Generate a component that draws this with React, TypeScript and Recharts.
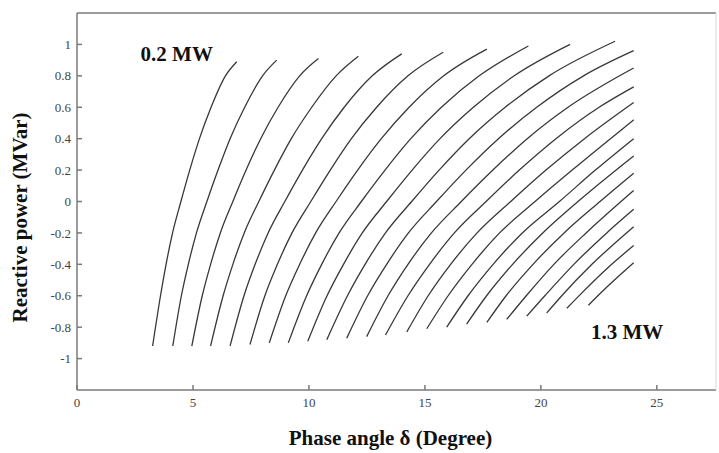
import { LineChart, Line, XAxis, YAxis, ReferenceDot } from "recharts";

// active power of each curve, MW (0.2 ... 1.3 in 0.05 steps)
const powers = [
  0.2, 0.25, 0.3, 0.35, 0.4, 0.45, 0.5, 0.55, 0.6, 0.65, 0.7, 0.75,
  0.8, 0.85, 0.9, 0.95, 1.0, 1.05, 1.1, 1.15, 1.2, 1.25, 1.3,
];

// phase angle (deg)
const deltaSeries: number[][] = [
  [3.26, 3.6, 3.84, 4.12, 4.48, 4.86, 5.28, 5.78, 6.4, 6.89],
  [4.13, 4.5, 4.8, 5.15, 5.6, 6.08, 6.6, 7.23, 8.0, 8.61],
  [4.95, 5.4, 5.76, 6.18, 6.72, 7.29, 7.92, 8.67, 9.6, 10.41],
  [5.76, 6.3, 6.72, 7.21, 7.84, 8.51, 9.24, 10.12, 11.17, 12.13],
  [6.6, 7.2, 7.68, 8.24, 8.96, 9.72, 10.55, 11.52, 12.73, 14.0],
  [7.46, 8.1, 8.64, 9.27, 10.08, 10.92, 11.83, 12.92, 14.27, 15.79],
  [8.29, 9.0, 9.6, 10.29, 11.17, 12.1, 13.12, 14.32, 15.81, 17.67],
  [9.11, 9.9, 10.55, 11.3, 12.26, 13.28, 14.39, 15.71, 17.34, 19.46],
  [9.95, 10.78, 11.49, 12.3, 13.35, 14.45, 15.65, 17.09, 18.85, 21.26],
  [10.77, 11.66, 12.42, 13.3, 14.43, 15.61, 16.91, 18.46, 20.35, 23.2],
  [11.63, 12.53, 13.35, 14.29, 15.5, 16.77, 18.17, 19.82, 21.84, 24],
  [12.49, 13.41, 14.27, 15.28, 16.57, 17.93, 19.41, 21.17, 24],
  [13.3, 14.27, 15.2, 16.27, 17.64, 19.07, 20.65, 22.51, 24],
  [14.22, 15.14, 16.11, 17.25, 18.7, 20.22, 21.88, 24],
  [15.08, 16.0, 17.03, 18.22, 19.75, 21.35, 23.0, 24],
  [15.94, 16.86, 17.94, 19.2, 20.8, 22.35, 24],
  [16.8, 17.66, 18.78, 20.08, 21.6, 24],
  [17.67, 18.5, 19.66, 21.0, 22.55, 24],
  [18.53, 19.37, 20.56, 21.95, 24],
  [19.39, 20.17, 21.42, 22.84, 24],
  [20.25, 20.9, 22.2, 24],
  [21.12, 21.78, 22.9, 24],
  [22.05, 22.88, 24],
];

// reactive power (MVar) at the same points
const qSeries: number[][] = [
  [-0.92, -0.6, -0.4, -0.2, 0, 0.2, 0.4, 0.6, 0.8, 0.89],
  [-0.92, -0.6, -0.4, -0.2, 0, 0.2, 0.4, 0.6, 0.8, 0.9],
  [-0.92, -0.6, -0.4, -0.2, 0, 0.2, 0.4, 0.6, 0.8, 0.91],
  [-0.92, -0.6, -0.4, -0.2, 0, 0.2, 0.4, 0.6, 0.8, 0.925],
  [-0.92, -0.6, -0.4, -0.2, 0, 0.2, 0.4, 0.6, 0.8, 0.94],
  [-0.91, -0.6, -0.4, -0.2, 0, 0.2, 0.4, 0.6, 0.8, 0.95],
  [-0.9, -0.6, -0.4, -0.2, 0, 0.2, 0.4, 0.6, 0.8, 0.97],
  [-0.9, -0.6, -0.4, -0.2, 0, 0.2, 0.4, 0.6, 0.8, 0.99],
  [-0.89, -0.6, -0.4, -0.2, 0, 0.2, 0.4, 0.6, 0.8, 1.0],
  [-0.88, -0.6, -0.4, -0.2, 0, 0.2, 0.4, 0.6, 0.8, 1.02],
  [-0.87, -0.6, -0.4, -0.2, 0, 0.2, 0.4, 0.6, 0.8, 0.96],
  [-0.86, -0.6, -0.4, -0.2, 0, 0.2, 0.4, 0.6, 0.85],
  [-0.85, -0.6, -0.4, -0.2, 0, 0.2, 0.4, 0.6, 0.73],
  [-0.83, -0.6, -0.4, -0.2, 0, 0.2, 0.4, 0.63],
  [-0.81, -0.6, -0.4, -0.2, 0, 0.2, 0.4, 0.52],
  [-0.8, -0.6, -0.4, -0.2, 0, 0.2, 0.4],
  [-0.78, -0.6, -0.4, -0.2, 0, 0.29],
  [-0.77, -0.6, -0.4, -0.2, 0, 0.18],
  [-0.75, -0.6, -0.4, -0.2, 0.07],
  [-0.73, -0.6, -0.4, -0.2, -0.05],
  [-0.71, -0.6, -0.4, -0.16],
  [-0.68, -0.58, -0.42, -0.28],
  [-0.66, -0.54, -0.39],
];

const xTicks = [0, 5, 10, 15, 20, 25];
const yTicks = [-1, -0.8, -0.6, -0.4, -0.2, 0, 0.2, 0.4, 0.6, 0.8, 1];

const serif = "'Liberation Serif', 'Times New Roman', serif";
const axisColor = "#7a7a7a";

const curves = powers.map((p, i) => ({
  power: p,
  points: deltaSeries[i].map((d, j) => ({ delta: d, q: qSeries[i][j] })),
}));

export default function App() {
  return (
    <div style={{ position: "absolute", left: 0, top: 0, background: "#fff" }}>
      <LineChart
        width={719}
        height={453}
        margin={{ top: 12, right: 0, bottom: 0, left: 0 }}
      >
        <XAxis
          dataKey="delta"
          type="number"
          domain={[0, 27.55]}
          ticks={xTicks}
          allowDataOverflow
          height={63}
          tickSize={-5}
          tickMargin={13}
          stroke={axisColor}
          strokeWidth={1.5}
          tick={{ fontSize: 13, fill: "#444", fontFamily: serif }}
          label={{
            value: "Phase angle δ (Degree)",
            position: "center",
            dx: -6,
            dy: 16,
            style: {
              fontSize: 21,
              fontWeight: "bold",
              fontFamily: serif,
              fill: "#111",
            },
          }}
        />
        <XAxis
          xAxisId="top"
          orientation="top"
          type="number"
          domain={[0, 27.55]}
          ticks={xTicks}
          height={1}
          tickSize={-5}
          tickFormatter={() => ""}
          stroke={axisColor}
          strokeWidth={1.5}
        />
        <YAxis
          type="number"
          domain={[-1.2, 1.2]}
          ticks={yTicks}
          allowDataOverflow
          width={77}
          tickSize={-5}
          tickMargin={11}
          stroke={axisColor}
          strokeWidth={1.5}
          tick={{ fontSize: 13, fill: "#444", fontFamily: serif }}
          label={{
            value: "Reactive power (MVar)",
            angle: -90,
            position: "center",
            dx: -19,
            dy: 16,
            style: {
              fontSize: 21,
              fontWeight: "bold",
              fontFamily: serif,
              fill: "#111",
            },
          }}
        />
        <YAxis
          yAxisId="right"
          orientation="right"
          type="number"
          domain={[-1.2, 1.2]}
          ticks={yTicks}
          width={3}
          tickSize={-4}
          tickFormatter={() => ""}
          stroke="#d8d8d8"
        />
        {curves.map((c) => (
          <Line
            key={c.power}
            data={c.points}
            dataKey="q"
            type="monotone"
            dot={false}
            stroke="#383838"
            strokeWidth={1.3}
            isAnimationActive={false}
          />
        ))}
        <ReferenceDot
          x={4.3}
          y={0.94}
          r={0}
          label={{
            value: "0.2 MW",
            position: "center",
            style: { fontSize: 21, fontWeight: "bold", fontFamily: serif, fill: "#111" },
          }}
        />
        <ReferenceDot
          x={23.72}
          y={-0.83}
          r={0}
          label={{
            value: "1.3 MW",
            position: "center",
            style: { fontSize: 21, fontWeight: "bold", fontFamily: serif, fill: "#111" },
          }}
        />
      </LineChart>
    </div>
  );
}
